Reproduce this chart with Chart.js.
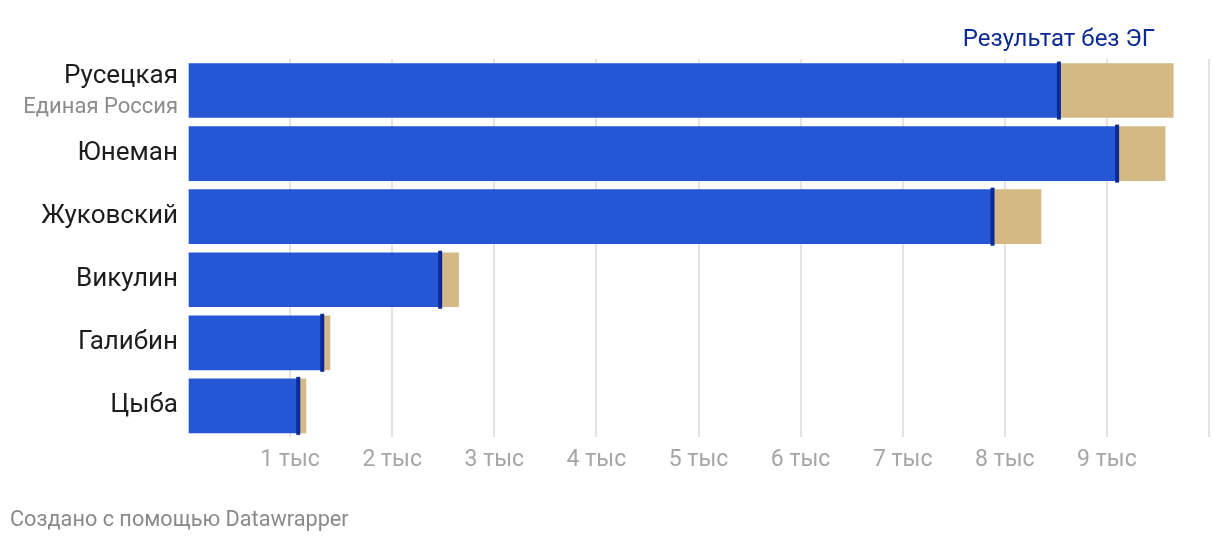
<!DOCTYPE html>
<html><head><meta charset="utf-8">
<script src="https://cdn.jsdelivr.net/npm/chart.js@4"></script>
<style>
html,body{margin:0;padding:0;background:#fff;}
#wrap{position:relative;width:1220px;height:546px;}
</style></head>
<body><div id="wrap"><canvas id="c" width="1220" height="546"></canvas></div>
<script>
const candidates = ['Русецкая','Юнеман','Жуковский','Викулин','Галибин','Цыба'];
const parties = ['Единая Россия','','','','',''];
const withoutEG = [8530, 9100, 7880, 2470, 1315, 1080];
const total = [9650, 9570, 8355, 2650, 1390, 1155];
const tickLabels = ['','1 тыс','2 тыс','3 тыс','4 тыс','5 тыс','6 тыс','7 тыс','8 тыс','9 тыс',''];
const markerLabel = 'Результат без ЭГ';
const footer = 'Создано с помощью Datawrapper';

const FONT = 'Roboto';
const extra = total.map((t,i)=>t-withoutEG[i]);

const overlay = {
  id:'overlay',
  afterDatasetsDraw(chart){
    const {ctx, scales:{x,y}} = chart;
    ctx.save();
    // markers
    ctx.fillStyle = '#0b2a96';
    withoutEG.forEach((v,i)=>{
      const px = x.getPixelForValue(v);
      const cy = y.getPixelForValue(i);
      ctx.fillRect(px-2, cy-29, 4, 58);
    });
    // marker label
    ctx.font = '24px '+FONT;
    ctx.textAlign='center'; ctx.textBaseline='middle';
    ctx.fillStyle = '#0b2a96';
    ctx.fillText(markerLabel, x.getPixelForValue(withoutEG[0]), 40);
    // category labels
    ctx.textAlign='right';
    candidates.forEach((c,i)=>{
      const cy = y.getPixelForValue(i);
      if(parties[i]){
        ctx.font='26px '+FONT; ctx.fillStyle='#1d1d1d';
        ctx.fillText(c, 178, cy-14);
        ctx.font='22px '+FONT; ctx.fillStyle='#8c8c8c';
        ctx.fillText(parties[i], 178, cy+17);
      } else {
        ctx.font='26px '+FONT; ctx.fillStyle='#1d1d1d';
        ctx.fillText(c, 178, cy);
      }
    });
    // footer
    ctx.textAlign='left';
    ctx.font='21.7px '+FONT; ctx.fillStyle='#8a8a8a';
    ctx.fillText(footer, 10, 521);
    ctx.restore();
  }
};

new Chart(document.getElementById('c'), {
  type:'bar',
  data:{
    labels:candidates,
    datasets:[
      {data:withoutEG, backgroundColor:'#2556d4', barThickness:54, borderWidth:0},
      {data:extra, backgroundColor:'#d4b985', barThickness:54, borderWidth:0}
    ]
  },
  options:{
    indexAxis:'y',
    responsive:false,
    animation:false,
    layout:{padding:{left:188, right:11, top:59, bottom:63}},
    plugins:{legend:{display:false}, tooltip:{enabled:false}},
    scales:{
      y:{stacked:true, display:false},
      x:{stacked:true, min:0, max:10000,
        border:{display:false},
        grid:{color:(c)=> c.tick && c.tick.value===0 ? 'rgba(0,0,0,0)' : '#e3e3e3', lineWidth:2, drawTicks:false},
        ticks:{stepSize:1000, padding:9, color:'#a6a6a6', font:{family:FONT, size:23},
          maxRotation:0, autoSkip:false,
          callback:(v,i)=>tickLabels[i]}
      }
    }
  },
  plugins:[overlay]
});
</script></body></html>
